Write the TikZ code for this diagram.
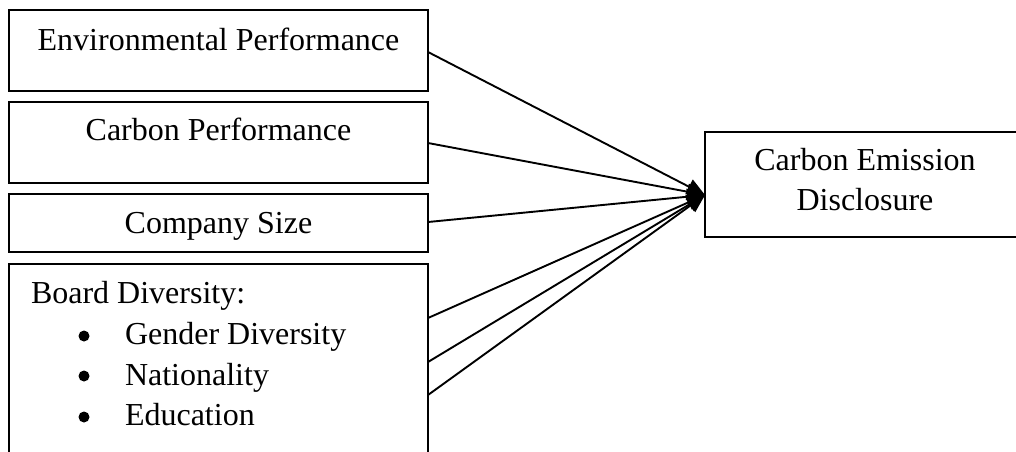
\documentclass[tikz,border=0pt]{standalone}
\usepackage{fontspec}
\setmainfont{Liberation Serif}
\usepackage{tikz}
\usetikzlibrary{arrows.meta, positioning}

\tikzset{
  box/.style={draw, line width=2pt, inner sep=0pt, outer sep=0pt},
  txt/.style={inner sep=0pt, outer sep=0pt},
  dot/.style={circle, fill, inner sep=0pt, minimum size=11pt},
  link/.style={line width=1.9pt, -{Triangle[length=18pt, width=16pt]}}
}

\begin{document}
\begin{tikzpicture}[x=1pt, y=-1pt, font=\fontsize{32}{40}\selectfont]
    \clip (0,0) rectangle (1016,451);
    \fill[white] (0,0) rectangle (1016,451);

    % boxes on the left
    \node[box, minimum width=419pt, minimum height=81pt] (env) at (218.5,50.5) {};
    \node[box, minimum width=419pt, minimum height=81pt] (carb) at (218.5,142.5) {};
    \node[box, minimum width=419pt, minimum height=58pt] (size) at (218.5,223) {};
    \node[box, minimum width=419pt, minimum height=220pt] (board) at (218.5,374) {};

    % box on the right
    \node[box, minimum width=320pt, minimum height=105pt] (ced) at (865,184.5) {};

    % texts
    \node[txt, anchor=base] (envtxt) at (218.5,50) {Environmental Performance};
    \node[txt, anchor=base] (carbtxt) at (218.5,140) {Carbon Performance};
    \node[txt, anchor=base] (sizetxt) at (218.5,233) {Company Size};
    \node[txt, anchor=base west] (boardtxt) at (31,303) {Board Diversity:};
    \node[dot] (bul1) at (84,336) {};
    \node[txt, anchor=base west] (gender) at (125,344) {Gender Diversity};
    \node[dot] (bul2) at (84,376) {};
    \node[txt, anchor=base west] (nation) at (125,385) {Nationality};
    \node[dot] (bul3) at (84,417) {};
    \node[txt, anchor=base west] (edu) at (125,425) {Education};
    \node[txt, anchor=base] (cedtxt1) at (865,170) {Carbon Emission};
    \node[txt, anchor=base] (cedtxt2) at (865,210) {Disclosure};

    % connectors
    \coordinate (hub) at (705,195);
    \coordinate (b1) at (428,318);
    \coordinate (b2) at (428,362);
    \coordinate (b3) at (428,395);
    \draw[link] (env.east |- 0,52) -- (hub);
    \draw[link] (carb.east |- 0,143) -- (hub);
    \draw[link] (size.east |- 0,222) -- (hub);
    \draw[link] (b1) -- (hub);
    \draw[link] (b2) -- (hub);
    \draw[link] (b3) -- (hub);
\end{tikzpicture}
\end{document}
